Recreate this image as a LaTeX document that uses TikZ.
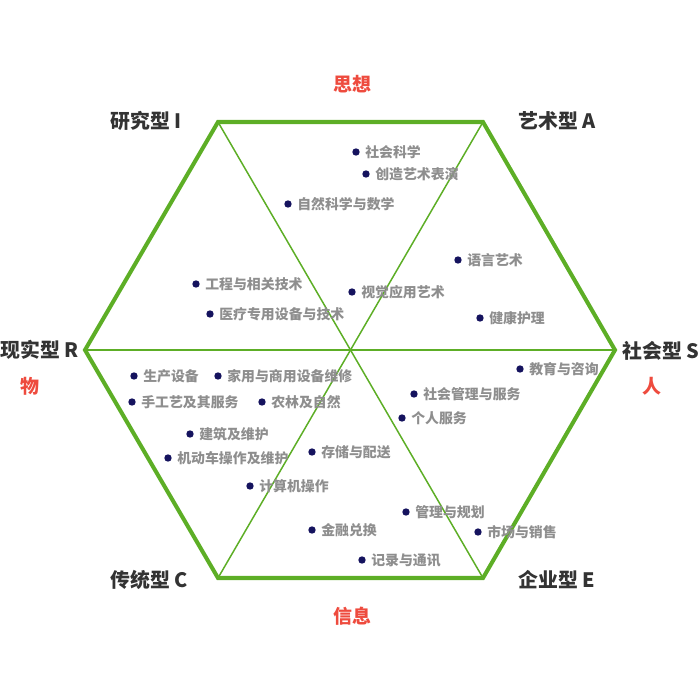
\documentclass[tikz,border=0pt]{standalone}
\usepackage{fontspec}
\setmainfont{Noto Sans CJK SC}
\begin{document}
\begin{tikzpicture}[x=0.02cm,y=-0.02cm,
  hexout/.style={draw=hexgreen,line width=2.3pt,line join=miter},
  hexin/.style={draw=hexgreen,line width=0.85pt},
  vlabel/.style={font=\fontsize{11.3pt}{13pt}\selectfont\bfseries,text=labdark,inner sep=0pt},
  rlabel/.style={font=\fontsize{10.8pt}{12pt}\selectfont\bfseries,text=labred,inner sep=0pt},
  dotnode/.style={circle,fill=dotblue,inner sep=0pt,minimum size=4.2pt},
  itemtext/.style={font=\fontsize{7.9pt}{9pt}\selectfont\bfseries,text=itemgray,inner sep=0pt,anchor=west}]
\definecolor{hexgreen}{HTML}{5DAE26}
\definecolor{labdark}{HTML}{333333}
\definecolor{labred}{HTML}{EE4B3E}
\definecolor{dotblue}{HTML}{15135E}
\definecolor{itemgray}{HTML}{8E8E8E}
\useasboundingbox (0,0) rectangle (700,700);
\coordinate (I) at (218,122);
\coordinate (A) at (483,122);
\coordinate (S) at (615,350);
\coordinate (E) at (483,578);
\coordinate (C) at (218,578);
\coordinate (R) at (85,350);
\draw[hexin] (I) -- (E);
\draw[hexin] (A) -- (C);
\draw[hexin] (R) -- (S);
\draw[hexout] (I) -- (A) -- (S) -- (E) -- (C) -- (R) -- cycle;
% vertex labels
\node[vlabel,anchor=east] (lI) at (182,121) {研究型 I};
\node[vlabel,anchor=west] (lA) at (518,121) {艺术型 A};
\node[vlabel,anchor=west] (lR) at (0,350) {现实型 R};
\node[vlabel,anchor=west] (lS) at (622,351) {社会型 S};
\node[vlabel,anchor=east] (lC) at (188,580) {传统型 C};
\node[vlabel,anchor=west] (lE) at (518,580) {企业型 E};
% red labels
\node[rlabel] (t1) at (352,84) {思想};
\node[rlabel] (t2) at (30,386) {物};
\node[rlabel] (t3) at (652,386) {人};
\node[rlabel] (t4) at (352,616) {信息};
% items
\foreach \n/\x/\y/\t in {
  a1/356/152/社会科学,
  a2/366/174/创造艺术表演,
  a3/288/204/自然科学与数学,
  a4/458/260/语言艺术,
  a5/196/284/工程与相关技术,
  a6/352/292/视觉应用艺术,
  a7/210/314/医疗专用设备与技术,
  a8/480/318/健康护理,
  a9/520/369/教育与咨询,
  b1/134/376/生产设备,
  b2/218/376/家用与商用设备维修,
  b3/414/394/社会管理与服务,
  b4/132/402/手工艺及其服务,
  b5/262/402/农林及自然,
  b6/402/418/个人服务,
  b7/190/434/建筑及维护,
  b8/312/452/存储与配送,
  b9/168/458/机动车操作及维护,
  c1/250/486/计算机操作,
  c2/406/512/管理与规划,
  c3/312/530/金融兑换,
  c4/478/532/市场与销售,
  c5/362/560/记录与通讯}{
  \node[dotnode] (d\n) at (\x,\y) {};
  \node[itemtext] (x\n) at ([xshift=0.18cm]d\n.center) {\t};
}
\end{tikzpicture}
\end{document}
